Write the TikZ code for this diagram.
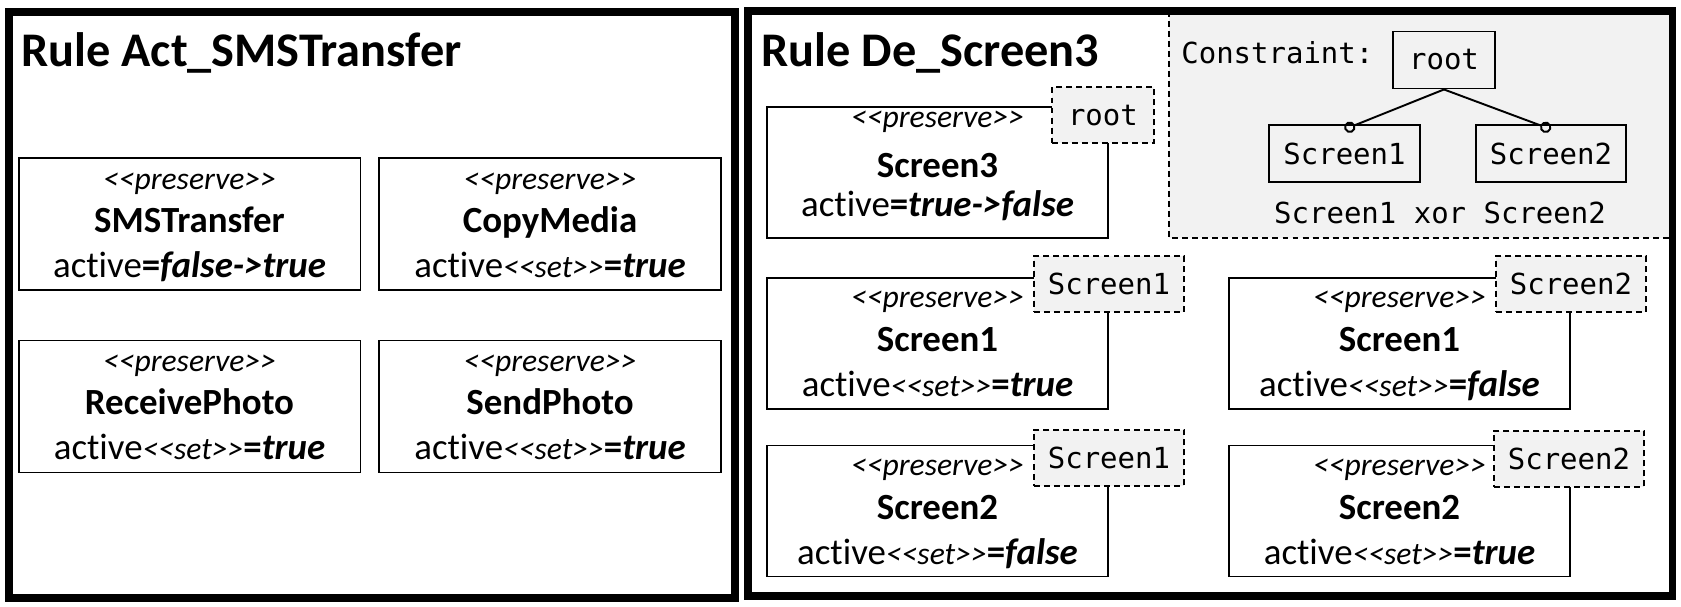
\documentclass[tikz,border=0pt]{standalone}
\usepackage{fontspec}
\setmainfont{Carlito}[Ligatures={TeXOff,NoCommon}]
\newfontfamily\monofont{DejaVu Sans Mono}
\usepackage{tikz}
\usetikzlibrary{positioning}
\usetikzlibrary{calc}
\usetikzlibrary{arrows.meta}

\definecolor{tagfill}{HTML}{F2F2F2}

\newcommand{\setstereo}{{\fontsize{18pt}{20pt}\selectfont\itshape <<set>>}}
\newcommand{\bival}[1]{\textbf{\textit{#1}}}

\tikzset{
    ruleframe/.style={draw, line width=4pt},
    ruletitle/.style={anchor=base west, inner sep=0pt, font=\fontsize{27.5pt}{32pt}\selectfont\bfseries},
    objbox/.style={draw, line width=1.1pt, minimum width=6.84cm, minimum height=2.64cm, inner sep=0pt},
    stereo/.style={anchor=base, inner sep=0pt, font=\fontsize{18pt}{20pt}\selectfont\itshape},
    objname/.style={anchor=base, inner sep=0pt, font=\fontsize{21pt}{24pt}\selectfont\bfseries},
    attr/.style={anchor=base, inner sep=0pt, font=\fontsize{21pt}{24pt}\selectfont},
    tagbox/.style={draw, dash pattern=on 3.4pt off 2.3pt, line width=1.1pt, fill=tagfill, minimum height=1.12cm, inner sep=0pt, font=\fontsize{16.5pt}{20pt}\monofont},
    conarea/.style={draw, dash pattern=on 3.4pt off 2.3pt, line width=1.1pt, fill=tagfill},
    featbox/.style={draw, line width=1.1pt, minimum height=1.14cm, inner sep=0pt, font=\fontsize{16.5pt}{20pt}\monofont},
    monotext/.style={inner sep=0pt, font=\fontsize{16.5pt}{20pt}\monofont},
    optional/.style={line width=1.1pt, -{Circle[open, length=6.5pt, width=6.5pt]}},
}

\begin{document}
\begin{tikzpicture}[x=0.02cm, y=-0.02cm]
    \useasboundingbox (0,0) rectangle (1681,606);

    % rule Act_SMSTransfer
    \draw[ruleframe] (9,12) rectangle (735,598);
    \node[ruletitle] (titleL) at (21,66) {Rule Act\_SMSTransfer};

    \node[objbox] (sms) at (189.5,224) {};
    \node[stereo] (smsSt) at ($(sms.north)+(0,32)$) {<<preserve>>};
    \node[objname] (smsNm) at ($(sms.north)+(0,75)$) {SMSTransfer};
    \node[attr] (smsAt) at ($(sms.north)+(0,120)$) {active\textbf{=}\bival{false->true}};

    \node[objbox] (copy) at (550,224) {};
    \node[stereo] (copySt) at ($(copy.north)+(0,32)$) {<<preserve>>};
    \node[objname] (copyNm) at ($(copy.north)+(0,75)$) {CopyMedia};
    \node[attr] (copyAt) at ($(copy.north)+(0,120)$) {active\setstereo\textbf{=}\bival{true}};

    \node[objbox] (recv) at (189.5,406.5) {};
    \node[stereo] (recvSt) at ($(recv.north)+(0,32)$) {<<preserve>>};
    \node[objname] (recvNm) at ($(recv.north)+(0,75)$) {ReceivePhoto};
    \node[attr] (recvAt) at ($(recv.north)+(0,120)$) {active\setstereo\textbf{=}\bival{true}};

    \node[objbox] (send) at (550,406.5) {};
    \node[stereo] (sendSt) at ($(send.north)+(0,32)$) {<<preserve>>};
    \node[objname] (sendNm) at ($(send.north)+(0,75)$) {SendPhoto};
    \node[attr] (sendAt) at ($(send.north)+(0,120)$) {active\setstereo\textbf{=}\bival{true}};

    % rule De_Screen3
    \draw[conarea] (1169,11) rectangle (1672,238);
    \draw[ruleframe] (748,11) rectangle (1672,596);
    \node[ruletitle] (titleR) at (761,66) {Rule De\_Screen3};

    % constraint
    \node[monotext, anchor=west] (cons) at (1181,53) {Constraint:};
    \node[featbox, minimum width=2.04cm] (froot) at (1444,60) {root};
    \node[featbox, minimum width=3.02cm] (fscr1) at (1344.5,153.5) {Screen1};
    \node[featbox, minimum width=3.0cm] (fscr2) at (1551,153.5) {Screen2};
    \draw[optional] (froot.south) -- ([yshift=-3pt]fscr1.north);
    \draw[optional] (froot.south) -- ([yshift=-3pt]fscr2.north);
    \node[monotext] (xorc) at (1440,213) {Screen1 xor Screen2};

    \node[objbox, minimum width=6.82cm, minimum height=2.62cm] (scr3) at (937.5,172.5) {};
    \node[stereo] (scr3St) at ($(scr3.north)+(0,21)$) {<<preserve>>};
    \node[objname] (scr3Nm) at ($(scr3.north)+(0,71)$) {Screen3};
    \node[attr] (scr3At) at ($(scr3.north)+(0,110)$) {active\textbf{=}\bival{true->false}};
    \node[tagbox, minimum width=2.04cm] (tag3) at ($(scr3.north east)+(-6,9)$) {root};

    \node[objbox, minimum width=6.82cm, minimum height=2.62cm] (onA) at (937.5,343.5) {};
    \node[stereo] (onASt) at ($(onA.north)+(0,30)$) {<<preserve>>};
    \node[objname] (onANm) at ($(onA.north)+(0,74)$) {Screen1};
    \node[attr] (onAAt) at ($(onA.north)+(0,119)$) {active\setstereo\textbf{=}\bival{true}};
    \node[tagbox, minimum width=3.0cm] (tagA) at ($(onA.north east)+(0,7)$) {Screen1};

    \node[objbox, minimum width=6.82cm, minimum height=2.62cm] (offA) at (1399.5,343.5) {};
    \node[stereo] (offASt) at ($(offA.north)+(0,30)$) {<<preserve>>};
    \node[objname] (offANm) at ($(offA.north)+(0,74)$) {Screen1};
    \node[attr] (offAAt) at ($(offA.north)+(0,119)$) {active\setstereo\textbf{=}\bival{false}};
    \node[tagbox, minimum width=3.0cm] (tagB) at ($(offA.north east)+(0,7)$) {Screen2};

    \node[objbox, minimum width=6.82cm, minimum height=2.62cm] (offB) at (937.5,511) {};
    \node[stereo] (offBSt) at ($(offB.north)+(0,31)$) {<<preserve>>};
    \node[objname] (offBNm) at ($(offB.north)+(0,75)$) {Screen2};
    \node[attr] (offBAt) at ($(offB.north)+(0,120)$) {active\setstereo\textbf{=}\bival{false}};
    \node[tagbox, minimum width=3.0cm] (tagC) at ($(offB.north east)+(0,13)$) {Screen1};

    \node[objbox, minimum width=6.82cm, minimum height=2.62cm] (onB) at (1399.5,511) {};
    \node[stereo] (onBSt) at ($(onB.north)+(0,31)$) {<<preserve>>};
    \node[objname] (onBNm) at ($(onB.north)+(0,75)$) {Screen2};
    \node[attr] (onBAt) at ($(onB.north)+(0,120)$) {active\setstereo\textbf{=}\bival{true}};
    \node[tagbox, minimum width=3.0cm] (tagD) at ($(onB.north east)+(-2,14)$) {Screen2};
\end{tikzpicture}
\end{document}
